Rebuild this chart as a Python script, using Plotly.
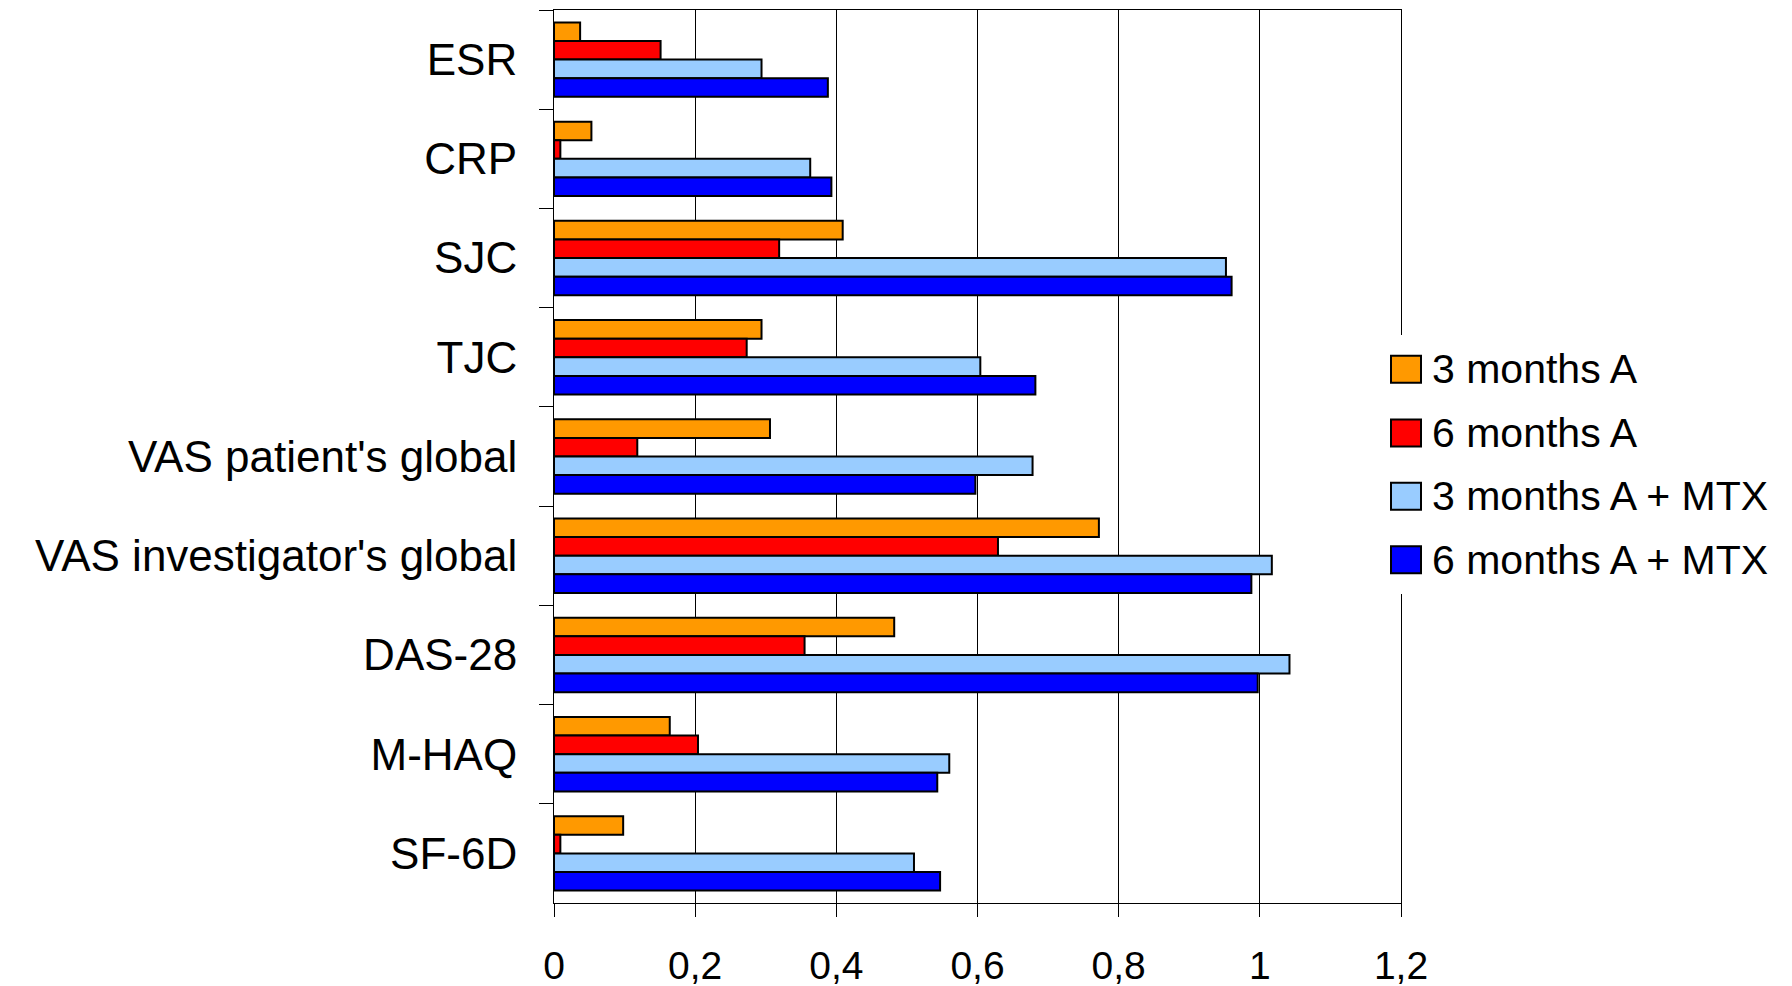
import plotly.graph_objects as go

categories = ["ESR", "CRP", "SJC", "TJC", "VAS patient's global",
              "VAS investigator's global", "DAS-28", "M-HAQ", "SF-6D"]
series_names = ["3 months A", "6 months A", "3 months A + MTX", "6 months A + MTX"]
m3_A = [0.037, 0.053, 0.409, 0.294, 0.306, 0.772, 0.482, 0.164, 0.098]
m6_A = [0.151, 0.009, 0.319, 0.273, 0.118, 0.629, 0.355, 0.204, 0.009]
m3_AMTX = [0.294, 0.363, 0.952, 0.604, 0.678, 1.017, 1.042, 0.560, 0.510]
m6_AMTX = [0.388, 0.393, 0.960, 0.682, 0.597, 0.988, 0.997, 0.543, 0.547]
colors = ["#FF9900", "#FF0000", "#99CCFF", "#0000FF"]
x_ticks = [0, 0.2, 0.4, 0.6, 0.8, 1.0, 1.2]
x_tick_text = ["0", "0,2", "0,4", "0,6", "0,8", "1", "1,2"]

W, H = 1792, 986
OFF = 8  # page body margin
L, R, T, B = 546, 399, 2, 91
FONT = "Liberation Sans, Arial, sans-serif"

fig = go.Figure()
for name, vals, col in zip(series_names, [m3_A, m6_A, m3_AMTX, m6_AMTX], colors):
    fig.add_trace(go.Bar(
        y=categories, x=vals, name=name, orientation="h",
        marker=dict(color=col, line=dict(color="black", width=2)),
        showlegend=False,
    ))

fig.update_layout(
    width=W, height=H,
    margin=dict(l=L, r=R, t=T, b=B, pad=0),
    paper_bgcolor="white", plot_bgcolor="white",
    barmode="group", bargap=0.25, bargroupgap=0,
    font=dict(family=FONT, color="black"),
)
fig.update_xaxes(
    range=[0, 1.2], tickvals=x_ticks, ticktext=x_tick_text,
    showgrid=True, gridcolor="black", gridwidth=1,
    showline=True, linecolor="black", linewidth=1, mirror=True,
    ticks="outside", ticklen=13, tickcolor="black", tickwidth=1,
    tickfont=dict(size=39, family=FONT, color="black"),
    ticklabelstandoff=15, zeroline=False,
)
fig.update_yaxes(
    autorange="reversed", type="category",
    showgrid=False,
    showline=True, linecolor="black", linewidth=1, mirror=True,
    ticks="outside", ticklen=14, tickcolor="black", tickwidth=1,
    tickson="boundaries",
    tickfont=dict(size=44, family=FONT, color="black"),
    ticklabelstandoff=27,
)

pw = W - L - R
ph = H - T - B


def px_x(px):
    return (px - OFF - L) / pw


def px_y(py):
    return (H - B - (py - OFF)) / ph


# legend (white backing box, like the original, covers the plot's right edge)
fig.add_shape(type="rect", xref="paper", yref="paper",
              x0=px_x(1380), x1=px_x(1792), y0=px_y(594), y1=px_y(335),
              fillcolor="white", line=dict(width=0), layer="above")
centers = [369.3, 433.0, 496.3, 559.7]
for name, col, cy in zip(series_names, colors, centers):
    fig.add_shape(type="rect", xref="paper", yref="paper",
                  x0=px_x(1391), x1=px_x(1421),
                  y0=px_y(cy + 13.5), y1=px_y(cy - 13.5),
                  fillcolor=col, line=dict(color="black", width=2), layer="above")
    fig.add_annotation(xref="paper", yref="paper", x=px_x(1430), y=px_y(cy),
                       text=name, showarrow=False, xanchor="left", yanchor="middle",
                       font=dict(size=41, family=FONT, color="black"))

fig.write_html("out.html", config={"displayModeBar": False})
